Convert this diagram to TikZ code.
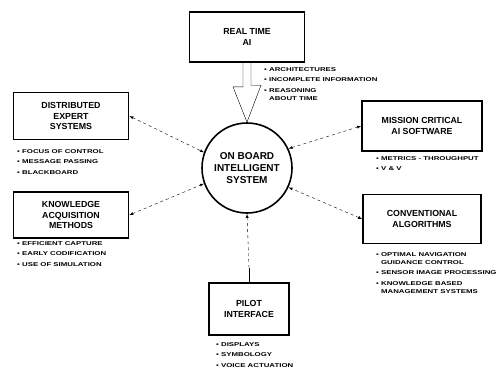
\documentclass[tikz,border=0pt]{standalone}
\usepackage{fontspec}
\setmainfont{Liberation Sans}
\newfontfamily\itemfont[FakeStretch=1.4]{Liberation Sans}
\usetikzlibrary{calc}

\begin{document}
\begin{tikzpicture}[x=1pt, y=-1pt,
        topic/.style={draw, line width=1.6pt, align=center, inner sep=0pt,
            font=\bfseries\fontsize{8.8}{10.5}\selectfont},
        points/.style={anchor=north west, align=left, inner sep=0pt,
            font=\itemfont\bfseries\fontsize{5.6}{8}\selectfont},
        link/.style={thin, dashed, latex-latex}]
        \useasboundingbox (0,0) rectangle (500,372);
        % centre
        \node(obis) at (247,168) [circle, draw, line width=1.6pt, minimum size=90, align=center,
            font=\bfseries\fontsize{10}{12}\selectfont] {ON BOARD\\INTELLIGENT\\SYSTEM};
        % boxes
        \node(rt)  at (247,37)  [topic, minimum width=115, minimum height=50] {REAL TIME\\AI};
        \node(des) at (71,116)  [topic, minimum width=115, minimum height=47] {DISTRIBUTED\\EXPERT\\SYSTEMS};
        \node(kam) at (71,215)  [topic, minimum width=115, minimum height=46] {KNOWLEDGE\\ACQUISITION\\METHODS};
        \node(mcs) at (422,126) [topic, minimum width=120, minimum height=50] {MISSION CRITICAL\\AI SOFTWARE};
        \node(ca)  at (422,219) [topic, minimum width=118, minimum height=49] {CONVENTIONAL\\ALGORITHMS};
        \node(pi)  at (249,309) [topic, minimum width=80,  minimum height=52] {PILOT\\INTERFACE};
        % lists
        \node(rtlist)  at (264,67)  [points] {\textbullet\ ARCHITECTURES\\[2.5pt]
            \textbullet\ INCOMPLETE INFORMATION\\[2.5pt]
            \textbullet\ REASONING\\\phantom{\textbullet\ }ABOUT TIME};
        \node(deslist) at (17,149)  [points] {\textbullet\ FOCUS OF CONTROL\\[2.5pt]
            \textbullet\ MESSAGE PASSING\\[2.5pt]
            \textbullet\ BLACKBOARD};
        \node(kamlist) at (17,241)  [points] {\textbullet\ EFFICIENT CAPTURE\\[2.5pt]
            \textbullet\ EARLY CODIFICATION\\[2.5pt]
            \textbullet\ USE OF SIMULATION};
        \node(mcslist) at (376,156) [points] {\textbullet\ METRICS - THROUGHPUT\\[2.5pt]
            \textbullet\ V \& V};
        \node(calist)  at (376,252) [points] {\textbullet\ OPTIMAL NAVIGATION\\\phantom{\textbullet\ }GUIDANCE CONTROL\\[2.5pt]
            \textbullet\ SENSOR IMAGE PROCESSING\\[2.5pt]
            \textbullet\ KNOWLEDGE BASED\\\phantom{\textbullet\ }MANAGEMENT SYSTEMS};
        \node(pilist)  at (216,342) [points] {\textbullet\ DISPLAYS\\[2.5pt]
            \textbullet\ SYMBOLOGY\\[2.5pt]
            \textbullet\ VOICE ACTUATION};
        % connectors
        \draw[thin] ($(rt.south)+(-4,0)$) -- ++(0,24) -- ++(-10,0) -- (obis.north)
            -- ++(14,-37) -- ++(-10,0) -- ($(rt.south)+(4,0)$);
        \draw[link] (des.east) -- (obis.160);
        \draw[link] (kam.east) -- (obis.200);
        \draw[link] (mcs.west) -- (obis.25);
        \draw[link] (ca.west)  -- (obis.-25);
        \draw[thick] (pi.north) -- ++(0,-14) coordinate(pibend);
        \draw[thin, dashed, -latex] (pibend) -- (obis.south);
    \end{tikzpicture}
\end{document}
